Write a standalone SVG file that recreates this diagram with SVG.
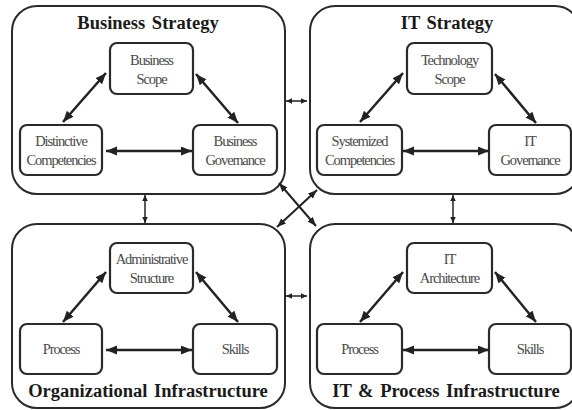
<svg xmlns="http://www.w3.org/2000/svg" width="572" height="410" viewBox="0 0 572 410">
<style>
.outer{fill:#fff;stroke:#2a2a2a;stroke-width:2}
.inner{fill:#fff;stroke:#2a2a2a;stroke-width:2.2}
.title{font-family:"Liberation Serif",serif;font-weight:bold;font-size:18.5px;fill:#1a1a1a;text-anchor:middle;word-spacing:2px}
.lbl{font-family:"Liberation Serif",serif;font-size:14.5px;fill:#4a4a4a;text-anchor:middle;letter-spacing:-1.1px}
.big{stroke:#222;stroke-width:2.5;fill:none;marker-start:url(#ah);marker-end:url(#ah)}
.diag{stroke:#222;stroke-width:2;fill:none;marker-start:url(#am);marker-end:url(#am)}
.small{stroke:#222;stroke-width:1.5;fill:none;marker-start:url(#as);marker-end:url(#as)}
</style>
<defs>
<marker id="ah" markerUnits="userSpaceOnUse" markerWidth="12" markerHeight="10" refX="11" refY="4.5" orient="auto-start-reverse"><path d="M0,0 L11,4.5 L0,9 z" fill="#222"/></marker>
<marker id="am" markerUnits="userSpaceOnUse" markerWidth="10" markerHeight="8" refX="9" refY="3.5" orient="auto-start-reverse"><path d="M0,0 L9,3.5 L0,7 z" fill="#222"/></marker>
<marker id="as" markerUnits="userSpaceOnUse" markerWidth="7" markerHeight="6" refX="6" refY="2.75" orient="auto-start-reverse"><path d="M0,0 L6,2.75 L0,5.5 z" fill="#222"/></marker>
</defs>
<rect width="572" height="410" fill="#fff"/>

<g id="business-strategy">
<rect class="outer" x="12" y="6" width="273" height="188" rx="25"/>
<text class="title" x="148" y="29">Business Strategy</text>
</g>
<g id="it-strategy">
<rect class="outer" x="310" y="6" width="270" height="188" rx="25"/>
<text class="title" x="447" y="29">IT Strategy</text>
</g>
<g id="org-infra">
<rect class="outer" x="12" y="224" width="273" height="184" rx="25"/>
<text class="title" x="148" y="397">Organizational Infrastructure</text>
</g>
<g id="itp-infra">
<rect class="outer" x="310" y="224" width="270" height="184" rx="25"/>
<text class="title" x="446" y="397">IT &amp; Process Infrastructure</text>
</g>

<g id="business-scope"><rect class="inner" x="110" y="43" width="83" height="51" rx="7"/><text class="lbl" x="151.5" y="65">Business</text><text class="lbl" x="151.5" y="84">Scope</text></g>
<g id="distinctive-competencies"><rect class="inner" x="20" y="125" width="82" height="50" rx="7"/><text class="lbl" x="61" y="146">Distinctive</text><text class="lbl" x="61" y="165">Competencies</text></g>
<g id="business-governance"><rect class="inner" x="193" y="125" width="84" height="50" rx="7"/><text class="lbl" x="235" y="146">Business</text><text class="lbl" x="235" y="165">Governance</text></g>

<g id="technology-scope"><rect class="inner" x="407" y="43" width="85" height="51" rx="7"/><text class="lbl" x="449.5" y="65">Technology</text><text class="lbl" x="449.5" y="84">Scope</text></g>
<g id="systemized-competencies"><rect class="inner" x="317" y="125" width="85" height="50" rx="7"/><text class="lbl" x="359.5" y="146">Systemized</text><text class="lbl" x="359.5" y="165">Competencies</text></g>
<g id="it-governance"><rect class="inner" x="489" y="125" width="82" height="50" rx="7"/><text class="lbl" x="530" y="146">IT</text><text class="lbl" x="530" y="165">Governance</text></g>

<g id="administrative-structure"><rect class="inner" x="110" y="243" width="83" height="50" rx="7"/><text class="lbl" x="151.5" y="264">Administrative</text><text class="lbl" x="151.5" y="283">Structure</text></g>
<g id="process-org"><rect class="inner" x="20" y="324" width="82" height="50" rx="7"/><text class="lbl" x="61" y="354">Process</text></g>
<g id="skills-org"><rect class="inner" x="193" y="324" width="84" height="50" rx="7"/><text class="lbl" x="235" y="354">Skills</text></g>

<g id="it-architecture"><rect class="inner" x="407" y="243" width="85" height="50" rx="7"/><text class="lbl" x="449.5" y="264">IT</text><text class="lbl" x="449.5" y="283">Architecture</text></g>
<g id="process-it"><rect class="inner" x="317" y="324" width="85" height="50" rx="7"/><text class="lbl" x="359.5" y="354">Process</text></g>
<g id="skills-it"><rect class="inner" x="489" y="324" width="82" height="50" rx="7"/><text class="lbl" x="530" y="354">Skills</text></g>

<g id="connectors">
<line class="big" x1="106" y1="73" x2="63" y2="122"/>
<line class="big" x1="196" y1="74" x2="238" y2="123"/>
<line class="big" x1="106" y1="151" x2="192" y2="151"/>
<line class="big" x1="403" y1="73" x2="360" y2="122"/>
<line class="big" x1="495" y1="74" x2="536" y2="123"/>
<line class="big" x1="403" y1="151" x2="489" y2="151"/>
<line class="big" x1="106" y1="272" x2="63" y2="322"/>
<line class="big" x1="196" y1="272" x2="238" y2="322"/>
<line class="big" x1="106" y1="350" x2="192" y2="350"/>
<line class="big" x1="403" y1="272" x2="360" y2="322"/>
<line class="big" x1="495" y1="272" x2="536" y2="322"/>
<line class="big" x1="403" y1="350" x2="489" y2="350"/>
<line class="small" x1="286" y1="101" x2="307" y2="101"/>
<line class="small" x1="286" y1="296" x2="307" y2="296"/>
<line class="small" x1="145" y1="195" x2="145" y2="223"/>
<line class="small" x1="453" y1="195" x2="453" y2="223"/>
<line class="diag" x1="279" y1="183" x2="316" y2="226"/>
<line class="diag" x1="317" y1="190" x2="277" y2="227"/>
</g>
</svg>
